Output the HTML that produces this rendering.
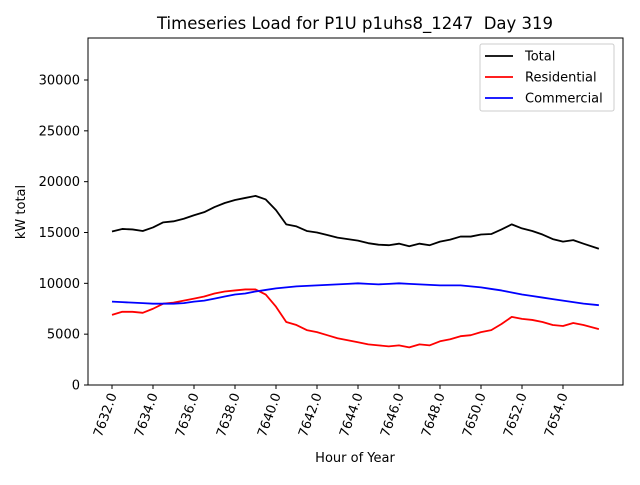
<!DOCTYPE html>
<html><head><meta charset="utf-8"><style>body{margin:0;background:#fff}svg{font-family:"DejaVu Sans","Liberation Sans",sans-serif}</style></head>
<body>
<svg id="c" width="640" height="480"></svg>
<script>
const hours=[7632,7632.5,7633,7633.5,7634,7634.5,7635,7635.5,7636,7636.5,7637,7637.5,7638,7638.5,7639,7639.5,7640,7640.5,7641,7641.5,7642,7642.5,7643,7643.5,7644,7644.5,7645,7645.5,7646,7646.5,7647,7647.5,7648,7648.5,7649,7649.5,7650,7650.5,7651,7651.5,7652,7652.5,7653,7653.5,7654,7654.5,7655,7655.75];
const residential=[6900,7200,7200,7100,7500,8000,8100,8300,8500,8700,9000,9200,9300,9400,9400,8900,7700,6200,5900,5400,5200,4900,4600,4400,4200,4000,3900,3800,3900,3700,4000,3900,4300,4500,4800,4900,5200,5400,6000,6700,6500,6400,6200,5900,5800,6100,5900,5500];
const commercial=[8200,8150,8100,8050,8000,8000,8000,8050,8200,8300,8500,8700,8900,9000,9200,9350,9500,9600,9700,9750,9800,9850,9900,9950,10000,9950,9900,9950,10000,9950,9900,9850,9800,9800,9800,9700,9600,9450,9300,9100,8900,8750,8600,8450,8300,8150,8000,7850];
const total=[15100,15350,15300,15150,15500,16000,16100,16350,16700,17000,17500,17900,18200,18400,18600,18250,17200,15800,15600,15150,15000,14750,14500,14350,14200,13950,13800,13750,13900,13650,13900,13750,14100,14300,14600,14600,14800,14850,15300,15800,15400,15150,14800,14350,14100,14250,13900,13400];
const xTicks=[7632,7634,7636,7638,7640,7642,7644,7646,7648,7650,7652,7654];
const yTicks=[0,5000,10000,15000,20000,25000,30000];
const L=88,R=623,T=38,B=385;
const X=v=>112+(v-7632)*(563-112)/22;
const Y=v=>B-v*(385-80)/30000;
const svg=document.getElementById('c');const NS='http://www.w3.org/2000/svg';
function el(t,a,p){const e=document.createElementNS(NS,t);for(const k in a)e.setAttribute(k,a[k]);(p||svg).appendChild(e);return e;}
const frame=el('rect',{x:L,y:T,width:R-L,height:B-T,fill:'none',stroke:'#000','stroke-width':1});


const title=el('text',{x:355,y:29,'text-anchor':'middle','font-size':16.5,style:'white-space:pre'});title.textContent='Timeseries Load for P1U p1uhs8_1247  Day 319';


yTicks.forEach(v=>{const y=Y(v);el('line',{x1:L-4,x2:L,y1:y,y2:y,stroke:'#000'});const t=el('text',{x:L-8,y:y+4.5,'text-anchor':'end','font-size':13});t.textContent=v;

});
xTicks.forEach(v=>{const x=X(v);el('line',{x1:x,x2:x,y1:B,y2:B+4,stroke:'#000'});const ax=x+5,ay=B+10;const t=el('text',{x:ax,y:ay,'text-anchor':'end','font-size':13,transform:`rotate(-70 ${ax} ${ay})`});t.textContent=v.toFixed(1);

});
const xl=el('text',{x:355,y:462,'text-anchor':'middle','font-size':13});xl.textContent='Hour of Year';


const yl=el('text',{x:0,y:0,'text-anchor':'middle','font-size':13,transform:'translate(25 212) rotate(-90)'});yl.textContent='kW total';


function line(arr,col,name){const p=el('polyline',{points:arr.map((v,i)=>X(hours[i])+','+Y(v)).join(' '),fill:'none',stroke:col,'stroke-width':1.8,'stroke-linejoin':'round'});

}
line(total,'#000','total-line');line(residential,'#f00','residential-line');line(commercial,'#00f','commercial-line');
const lg=el('rect',{x:480,y:44,width:134,height:67,fill:'#fff',stroke:'#ccc',rx:2});


[['Total','#000'],['Residential','#f00'],['Commercial','#00f']].forEach((d,i)=>{const y=56+i*21;el('line',{x1:485,x2:513,y1:y,y2:y,stroke:d[1],'stroke-width':1.8});const t=el('text',{x:525,y:y+4.5,'font-size':13});t.textContent=d[0];

});
</script>
</body></html>
